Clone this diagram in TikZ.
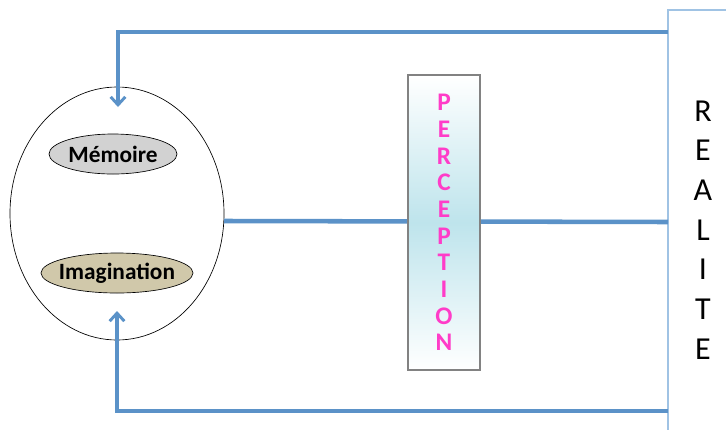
\documentclass[tikz,border=0pt]{standalone}
\usepackage{fontspec}
\setmainfont{Carlito}
\usetikzlibrary{shapes.geometric,arrows.meta}

\definecolor{linkblue}{RGB}{91,146,200}
\definecolor{framblue}{RGB}{160,195,228}
\definecolor{percpink}{RGB}{255,60,200}
\definecolor{percblue}{RGB}{190,228,236}
\definecolor{memgray}{RGB}{210,210,210}
\definecolor{imgtan}{RGB}{208,200,170}

\tikzset{every picture/.style={line width=0.75pt}}
\tikzset{
  bubble/.style={ellipse, draw=black, line width=0.5pt, inner sep=0pt},
  bubtext/.style={font=\bfseries\fontsize{17.5}{19}\selectfont},
  link/.style={draw=linkblue, line width=2.6pt},
  linkarr/.style={link, -{Straight Barb[length=6pt,width=11pt,line width=2.2pt]}}
}

\begin{document}
\begin{tikzpicture}[x=0.75pt,y=0.75pt,yscale=-1,xscale=1]
    \useasboundingbox (0,0) rectangle (726,430);

    %Ellipse: mind
    \node (mind) [ellipse, draw=black, line width=0.5pt, minimum width=160.5pt, minimum height=189.75pt] at (117,213.5) {};
    %Ellipse: Memoire
    \node (memo) [bubble, fill=memgray, minimum width=96pt, minimum height=30pt, label={[bubtext]center:Mémoire}] at (113,154) {};
    %Ellipse: Imagination
    \node (imag) [bubble, fill=imgtan, minimum width=114pt, minimum height=30pt, label={[bubtext]center:Imagination}] at (117,273) {};

    %Realite frame
    \draw [draw=framblue, line width=0.8pt] (726,10) -- (668,10) -- (668,430) ;
    \coordinate (realtop) at (668,32);
    \coordinate (realmid) at (668,222);
    \coordinate (realbot) at (668,411);
    \coordinate (memin) at (118,107);
    \coordinate (imgin) at (117,311);

    %Straight Lines
    \draw [linkarr] (realtop) -| (memin) ;
    \draw [linkarr] (realbot) -| (imgin) ;
    \draw [link, line width=3.4pt] (mind.-4.5) -- (realmid) ;

    %Shape: Rectangle perception
    \node (perc) [draw={rgb,255:red,130;green,130;blue,130}, line width=1pt, minimum width=54pt, minimum height=221.25pt, top color=white, bottom color=white, middle color=percblue, text=percpink, align=center, font=\bfseries\fontsize{19}{20}\selectfont] at (444,222.5) {P\\E\\R\\C\\E\\P\\T\\I\\O\\N};

    % Text Node
    \node (real) [align=center, font=\fontsize{24}{29.75}\selectfont] at (703,230) {R\\E\\A\\L\\I\\T\\E};
\end{tikzpicture}
\end{document}
